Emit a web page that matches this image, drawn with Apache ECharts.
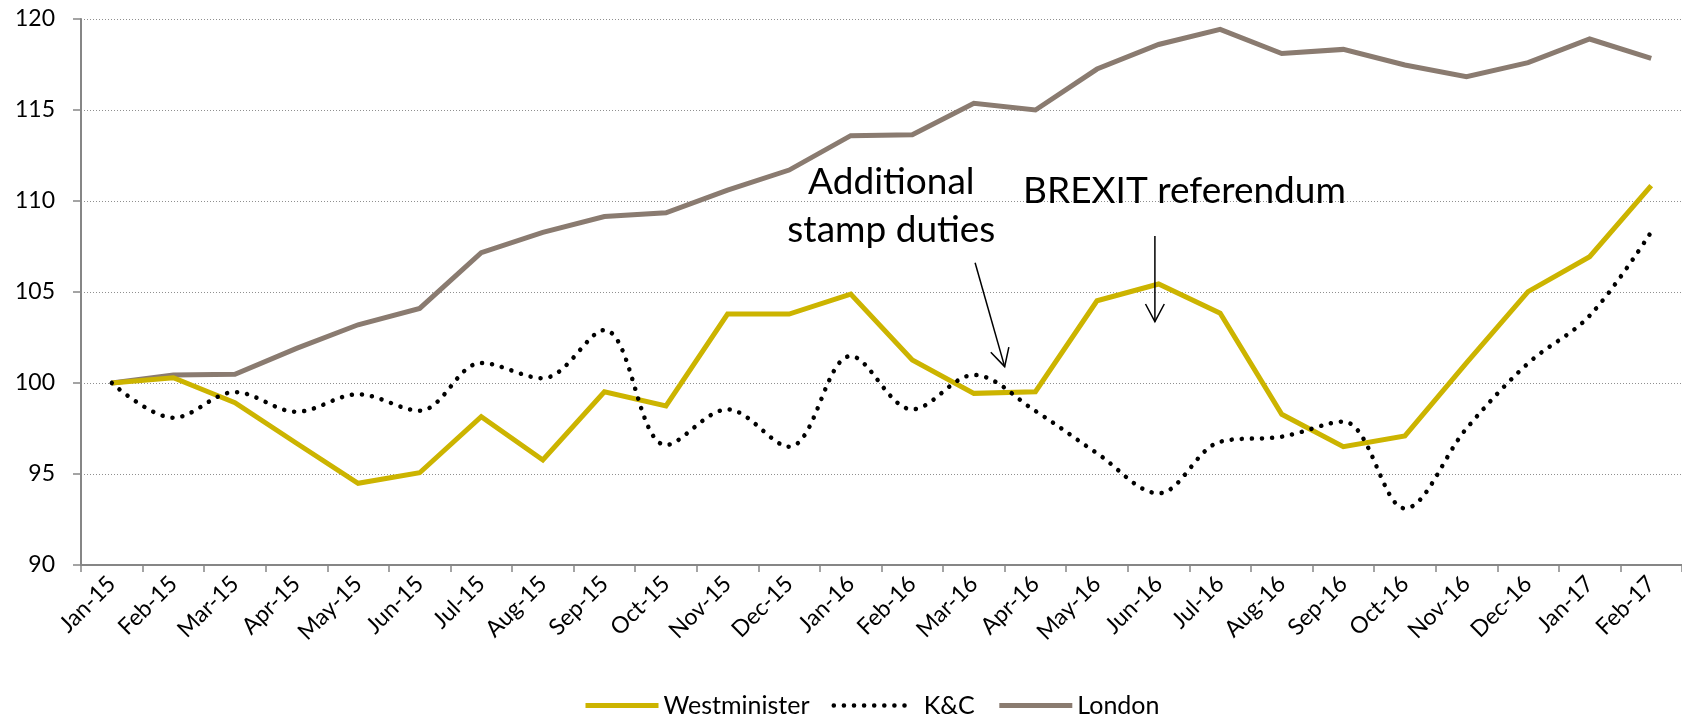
<!DOCTYPE html>
<html>
<head>
<meta charset="utf-8">
<script src="https://cdn.jsdelivr.net/npm/echarts@6/dist/echarts.min.js"></script>
<style>
  html, body { margin: 0; padding: 0; background: #ffffff; }
  #chart { width: 1682px; height: 715px; }
</style>
</head>
<body>
<div id="chart"></div>
<script>
// House price index, Jan 2015 = 100
const months = ['Jan-15','Feb-15','Mar-15','Apr-15','May-15','Jun-15','Jul-15','Aug-15','Sep-15','Oct-15','Nov-15','Dec-15',
                'Jan-16','Feb-16','Mar-16','Apr-16','May-16','Jun-16','Jul-16','Aug-16','Sep-16','Oct-16','Nov-16','Dec-16',
                'Jan-17','Feb-17'];

const westminster = [100, 100.29, 98.92, 96.69, 94.49, 95.07, 98.15, 95.77, 99.52, 98.74, 103.79, 103.79,
                     104.89, 101.26, 99.43, 99.52, 104.52, 105.44, 103.83, 98.28, 96.5, 97.09, 101.1, 105.02,
                     106.94, 110.84];

const kensingtonChelsea = [100, 98.09, 99.5, 98.42, 99.38, 98.48, 101.1, 100.26, 102.91, 96.59, 98.55, 96.5,
                           101.48, 98.55, 100.44, 98.46, 96.14, 93.94, 96.77, 97.05, 97.88, 93.11, 97.5, 101.08,
                           103.7, 108.3];

const london = [100, 100.44, 100.48, 101.9, 103.2, 104.1, 107.16, 108.28, 109.15, 109.35, 110.6, 111.7,
                113.59, 113.64, 115.37, 115.0, 117.25, 118.6, 119.43, 118.1, 118.33, 117.47, 116.83, 117.6,
                118.9, 117.84];

const yMin = 90, yMax = 120, yStep = 5;

// Annotation anchors in data space: [category index (may be fractional), value]
const annotationLabels = [
  { text: 'Additional',        at: [12.66, 111.05] },
  { text: 'stamp duties',      at: [12.66, 108.43] },
  { text: 'BREXIT referendum', at: [17.42, 110.55] }
];
const annotationArrows = [
  { from: [14.02, 106.61], to: [14.5, 100.9] },
  { from: [16.94, 108.08], to: [16.94, 103.37] }
];

const FONT = 'Lato, "Open Sans", sans-serif';
const AXIS_GREY = '#868686';
const DOTS = [0.1, 10];

const chart = echarts.init(document.getElementById('chart'), null, { renderer: 'canvas' });

chart.setOption({
  animation: false,
  backgroundColor: '#ffffff',
  grid: { left: 81, top: 19, width: 1612, height: 546, containLabel: false },
  legend: {
    left: 578,
    top: 688,
    itemWidth: 73,
    itemHeight: 14,
    itemGap: 22,
    textStyle: { fontFamily: FONT, fontSize: 25, color: '#000000' },
    itemStyle: { opacity: 0 },
    lineStyle: { width: 5 },
    data: [
      { name: 'Westminister' },
      {
        name: 'K&C',
        lineStyle: { width: 4.5, type: DOTS, cap: 'round', color: '#000000' },
        textStyle: { padding: [0, 13, 0, 12] }
      },
      { name: 'London' }
    ]
  },
  xAxis: {
    type: 'category',
    data: months,
    boundaryGap: true,
    axisLine: { show: true, lineStyle: { color: AXIS_GREY, width: 2 } },
    axisTick: { show: true, length: 7, lineStyle: { color: AXIS_GREY, width: 1.5 } },
    axisLabel: { rotate: 45, interval: 0, margin: 15, fontFamily: FONT, fontSize: 23, color: '#000000' },
    splitLine: { show: false }
  },
  yAxis: {
    type: 'value',
    min: yMin,
    max: yMax,
    interval: yStep,
    axisLine: { show: true, lineStyle: { color: AXIS_GREY, width: 2 } },
    axisTick: { show: true, length: 8, lineStyle: { color: AXIS_GREY, width: 1.5 } },
    axisLabel: { margin: 26, fontFamily: FONT, fontSize: 23, color: '#000000' },
    splitLine: { show: true, lineStyle: { color: '#8f8f8f', width: 1, type: [1, 2] } }
  },
  series: [
    {
      name: 'Westminister',
      type: 'line',
      data: westminster,
      symbol: 'none',
      lineStyle: { color: '#CCB400', width: 5, join: 'miter' },
      itemStyle: { color: '#CCB400' },
      z: 3
    },
    {
      name: 'K&C',
      type: 'line',
      data: kensingtonChelsea,
      symbol: 'none',
      smooth: 0.35,
      lineStyle: { color: '#000000', width: 4.5, type: DOTS, cap: 'round' },
      itemStyle: { color: '#000000' },
      z: 4
    },
    {
      name: 'London',
      type: 'line',
      data: london,
      symbol: 'none',
      lineStyle: { color: '#8A7B70', width: 5, join: 'miter' },
      itemStyle: { color: '#8A7B70' },
      z: 2
    }
  ]
});

// Map a (possibly fractional) category index and value to pixels
function toPixel(pt) {
  const i0 = Math.floor(pt[0]);
  const a = chart.convertToPixel({ gridIndex: 0 }, [i0, pt[1]]);
  const b = chart.convertToPixel({ gridIndex: 0 }, [i0 + 1, pt[1]]);
  const f = pt[0] - i0;
  return [a[0] + (b[0] - a[0]) * f, a[1]];
}

const graphics = [];
annotationLabels.forEach(function (lab) {
  const p = toPixel(lab.at);
  graphics.push({
    type: 'text',
    x: p[0], y: p[1],
    z: 10,
    style: {
      text: lab.text,
      fontFamily: FONT,
      fontSize: 37,
      fill: '#000000',
      align: 'center',
      verticalAlign: 'middle'
    }
  });
});

annotationArrows.forEach(function (arr) {
  const a = toPixel(arr.from);
  const b = toPixel(arr.to);
  const ang = Math.atan2(b[1] - a[1], b[0] - a[0]);
  const len = 20, spread = 28 * Math.PI / 180;
  const l = [b[0] - len * Math.cos(ang - spread), b[1] - len * Math.sin(ang - spread)];
  const r = [b[0] - len * Math.cos(ang + spread), b[1] - len * Math.sin(ang + spread)];
  graphics.push({
    type: 'line', z: 10,
    shape: { x1: a[0], y1: a[1], x2: b[0], y2: b[1] },
    style: { stroke: '#000000', lineWidth: 1.5 }
  });
  graphics.push({
    type: 'polyline', z: 10,
    shape: { points: [l, b, r] },
    style: { stroke: '#000000', lineWidth: 1.5, fill: null }
  });
});

chart.setOption({ graphic: graphics });
</script>
</body>
</html>
